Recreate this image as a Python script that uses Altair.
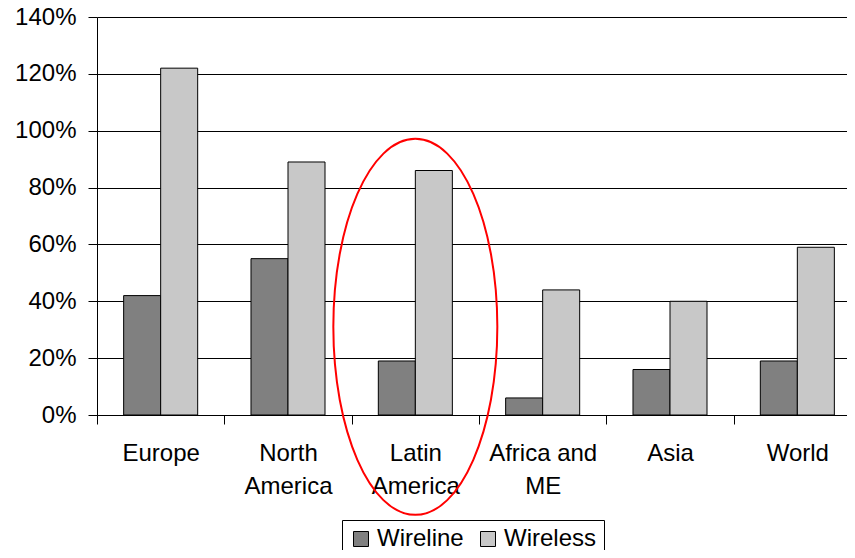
import altair as alt
import pandas as pd

regions = ["Europe", "North America", "Latin America", "Africa and ME", "Asia", "World"]
wireline = [0.42, 0.55, 0.19, 0.06, 0.16, 0.19]
wireless = [1.22, 0.89, 0.86, 0.44, 0.40, 0.59]
series = ["Wireline", "Wireless"]
y_ticks = [0, 0.2, 0.4, 0.6, 0.8, 1.0, 1.2, 1.4]

rows = []
for r, a, b in zip(regions, wireline, wireless):
    rows.append({"region": r, "type": "Wireline", "value": a})
    rows.append({"region": r, "type": "Wireless", "value": b})
df = pd.DataFrame(rows)

FONT = "Liberation Sans"

x_enc = alt.X(
    "region:N",
    sort=regions,
    scale=alt.Scale(range=[0, 764], paddingInner=0, paddingOuter=0),
    axis=alt.Axis(
        title=None,
        labelAngle=0,
        labelFont=FONT,
        labelFontSize=24,
        labelColor="black",
        labelPadding=17,
        labelLineHeight=33,
        labelBaseline="top",
        labelExpr="datum.label == 'Africa and ME' ? ['Africa and', 'ME'] : split(datum.label, ' ')",
        tickBand="extent",
        tickSize=9,
        tickColor="black",
        domainColor="black",
        grid=False,
    ),
)

y_enc = alt.Y(
    "value:Q",
    scale=alt.Scale(domain=[0, 1.4], nice=False),
    axis=alt.Axis(
        title=None,
        values=y_ticks,
        format=".0%",
        labelFont=FONT,
        labelFontSize=24,
        labelColor="black",
        labelPadding=12,
        tickSize=9,
        tickColor="black",
        domainColor="black",
        grid=True,
        gridColor="black",
        gridWidth=1,
    ),
)

bars = alt.Chart(df).mark_bar(stroke="black", strokeWidth=1).encode(
    x=x_enc,
    y=y_enc,
    xOffset=alt.XOffset(
        "type:N",
        sort=series,
        scale=alt.Scale(paddingInner=0, paddingOuter=0.72),
    ),
    color=alt.Color(
        "type:N",
        sort=series,
        scale=alt.Scale(domain=series, range=["#808080", "#C8C8C8"]),
        legend=alt.Legend(
            title=None,
            orient="none",
            legendX=245,
            legendY=503,
            direction="horizontal",
            symbolType="square",
            symbolSize=225,
            symbolStrokeColor="black",
            symbolStrokeWidth=1,
            labelFont=FONT,
            labelFontSize=24,
            labelColor="black",
            labelOffset=4,
            columnPadding=12,
            padding=7,
            strokeColor="black",
            fillColor="white",
        ),
    ),
)

R = 376 / 164
k = 0.5523
ell_path = (
    f"M 1 0 C 1 {k*R:.4f} {k:.4f} {R:.4f} 0 {R:.4f} "
    f"C {-k:.4f} {R:.4f} -1 {k*R:.4f} -1 0 "
    f"C -1 {-k*R:.4f} {-k:.4f} {-R:.4f} 0 {-R:.4f} "
    f"C {k:.4f} {-R:.4f} 1 {-k*R:.4f} 1 0 Z"
)

ellipse = alt.Chart(pd.DataFrame({"region": ["Latin America"]})).mark_point(
    shape=ell_path,
    filled=False,
    stroke="red",
    strokeWidth=2,
    opacity=1,
    size=164 * 164,
).encode(
    x=alt.X("region:N", sort=regions),
    y=alt.datum(0.31),
)

chart = (
    alt.layer(bars, ellipse)
    .properties(
        width=750,
        height=398,
        autosize=alt.AutoSizeParams(type="none"),
        padding={"left": 89, "top": 9, "right": 0, "bottom": 135},
    )
    .configure_view(strokeWidth=0)
)

chart.save("out.html", embed_options={"renderer": "svg", "actions": False})
